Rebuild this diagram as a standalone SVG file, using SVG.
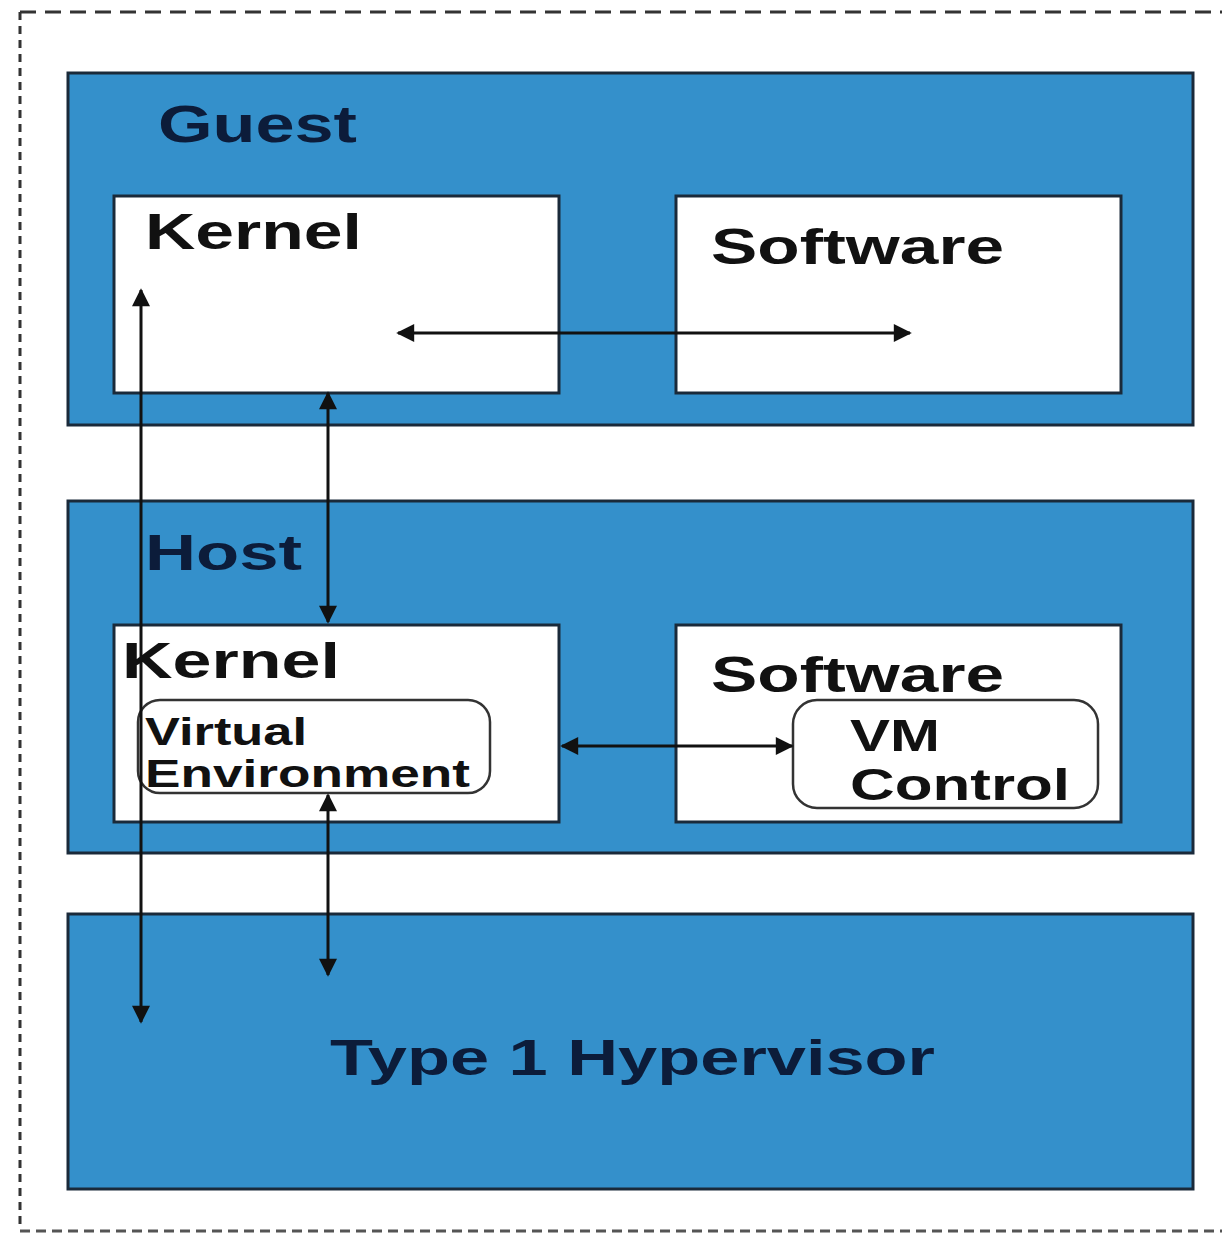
<svg xmlns="http://www.w3.org/2000/svg" width="1222" height="1233" viewBox="0 0 1222 1233">
<style>
.layer{fill:#3490cb;stroke:#1a2a3a;stroke-width:3}
.box{fill:#ffffff;stroke:#1a2a3a;stroke-width:3}
.inner{fill:#ffffff;stroke:#333;stroke-width:2.5}
.t{font-family:"Liberation Sans",Arial,sans-serif;font-weight:bold;fill:#111}
.tl{font-family:"Liberation Sans",Arial,sans-serif;font-weight:bold;fill:#0c1c3a}
.c{stroke:#111;stroke-width:3;fill:none;marker-start:url(#a);marker-end:url(#a)}
</style>
<defs>
<marker id="a" viewBox="0 0 10 10" refX="9" refY="5" markerWidth="7" markerHeight="6" orient="auto-start-reverse" markerUnits="strokeWidth">
<path d="M0,0 L10,5 L0,10 z" fill="#111"/>
</marker>
</defs>
<rect x="0" y="0" width="1222" height="1233" fill="#ffffff"/>
<g id="frame">
<path d="M20,12 H1222" stroke="#333" stroke-width="3" stroke-dasharray="16,9" fill="none"/>
<path d="M20,12 V1230" stroke="#333" stroke-width="3" stroke-dasharray="8,6" fill="none"/>
<path d="M20,1231 H1222" stroke="#555" stroke-width="3" stroke-dasharray="10,6" fill="none"/>
</g>
<g id="guest">
<rect class="layer" x="68" y="73" width="1125" height="352"/>
<text class="tl" x="158" y="142" font-size="52" textLength="199" lengthAdjust="spacingAndGlyphs">Guest</text>
</g>
<g id="guest-kernel">
<rect class="box" x="114" y="196" width="445" height="197"/>
<text class="t" x="145" y="249" font-size="50" textLength="217" lengthAdjust="spacingAndGlyphs">Kernel</text>
</g>
<g id="guest-software">
<rect class="box" x="676" y="196" width="445" height="197"/>
<text class="t" x="711" y="264" font-size="50" textLength="293" lengthAdjust="spacingAndGlyphs">Software</text>
</g>
<g id="host">
<rect class="layer" x="68" y="501" width="1125" height="352"/>
<text class="tl" x="145" y="570" font-size="50" textLength="157" lengthAdjust="spacingAndGlyphs">Host</text>
</g>
<g id="host-kernel">
<rect class="box" x="114" y="625" width="445" height="197"/>
<text class="t" x="122" y="678" font-size="50" textLength="218" lengthAdjust="spacingAndGlyphs">Kernel</text>
</g>
<g id="virtual-environment">
<rect class="inner" x="138" y="700" width="352" height="93" rx="22"/>
<text class="t" x="145" y="745" font-size="39" fill="#222" textLength="162" lengthAdjust="spacingAndGlyphs">Virtual</text>
<text class="t" x="145" y="787" font-size="39" fill="#222" textLength="325" lengthAdjust="spacingAndGlyphs">Environment</text>
</g>
<g id="host-software">
<rect class="box" x="676" y="625" width="445" height="197"/>
<text class="t" x="711" y="692" font-size="50" textLength="293" lengthAdjust="spacingAndGlyphs">Software</text>
</g>
<g id="vm-control">
<rect class="inner" x="793" y="700" width="305" height="108" rx="24"/>
<text class="t" x="850" y="751" font-size="44" textLength="90" lengthAdjust="spacingAndGlyphs">VM</text>
<text class="t" x="850" y="800" font-size="44" textLength="220" lengthAdjust="spacingAndGlyphs">Control</text>
</g>
<g id="hypervisor">
<rect class="layer" x="68" y="914" width="1125" height="275"/>
<text class="tl" x="330" y="1075" font-size="50" textLength="605" lengthAdjust="spacingAndGlyphs">Type 1 Hypervisor</text>
</g>
<g id="connectors">
<line class="c" x1="398" y1="333" x2="910" y2="333"/>
<line class="c" x1="328" y1="393" x2="328" y2="622"/>
<line class="c" x1="141" y1="290" x2="141" y2="1022"/>
<line class="c" x1="328" y1="795" x2="328" y2="975"/>
<line class="c" x1="562" y1="746" x2="792" y2="746"/>
</g>
</svg>
